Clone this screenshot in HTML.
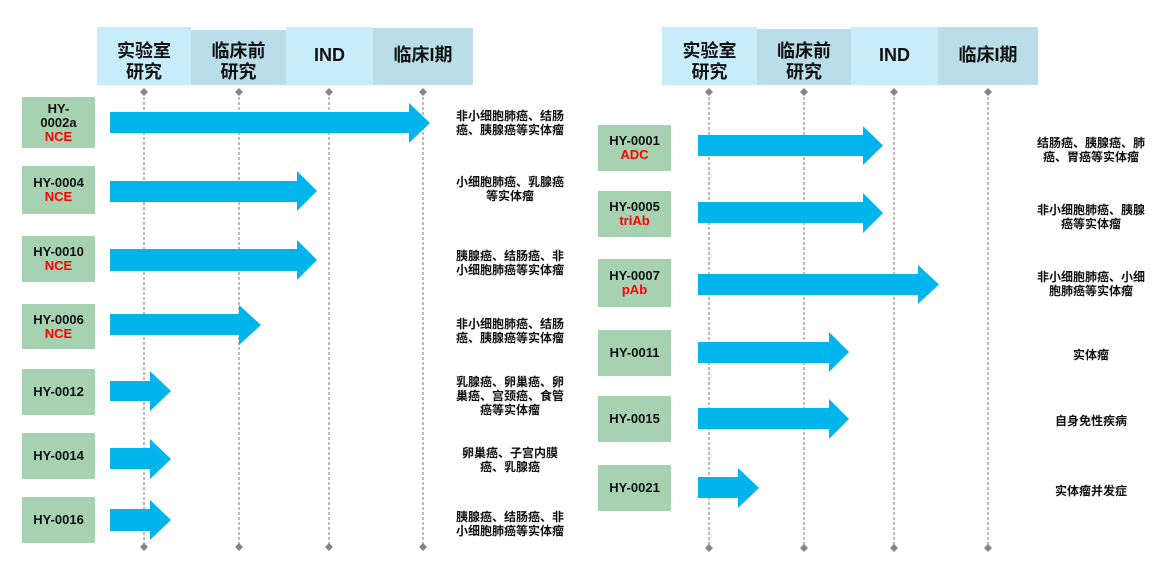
<!DOCTYPE html>
<html>
<head>
<meta charset="utf-8">
<style>
html,body{margin:0;padding:0;background:#fff;}
body{width:1154px;height:569px;position:relative;overflow:hidden;font-family:"Liberation Sans","Noto Sans CJK SC",sans-serif;}
svg{position:absolute;left:0;top:0;}
.hc{position:absolute;font-weight:bold;font-size:18px;line-height:21px;text-align:center;color:#111;}
.box{position:absolute;background:#a7d2b2;display:flex;flex-direction:column;align-items:center;justify-content:center;font-weight:bold;font-size:13px;line-height:14px;color:#111;text-align:center;}
.box .r{color:#ff0000;}
.tx{position:absolute;font-weight:bold;font-size:12px;line-height:14px;color:#111;text-align:center;white-space:nowrap;}
</style>
</head>
<body>
<svg width="1154" height="569" viewBox="0 0 1154 569">
  <rect x="97" y="27" width="94" height="58" fill="#c8edfa"/>
  <rect x="191" y="30" width="95" height="55" fill="#badee9"/>
  <rect x="286" y="27" width="87" height="58" fill="#c8edfa"/>
  <rect x="373" y="28" width="100" height="57" fill="#badee9"/>
  <rect x="662" y="27" width="95" height="58" fill="#c8edfa"/>
  <rect x="757" y="29" width="94" height="56" fill="#badee9"/>
  <rect x="851" y="27" width="87" height="58" fill="#c8edfa"/>
  <rect x="938" y="27" width="100" height="58" fill="#badee9"/>

  <g stroke="#a6a6a6" stroke-width="1.5" stroke-dasharray="3,2" fill="none">
    <line x1="144" y1="92" x2="144" y2="547"/>
    <line x1="239" y1="92" x2="239" y2="547"/>
    <line x1="329" y1="92" x2="329" y2="547"/>
    <line x1="423" y1="92" x2="423" y2="547"/>
    <line x1="709" y1="92" x2="709" y2="548"/>
    <line x1="804" y1="92" x2="804" y2="548"/>
    <line x1="894" y1="92" x2="894" y2="548"/>
    <line x1="988" y1="92" x2="988" y2="548"/>
  </g>
  <g fill="#858585">
    <polygon points="144,88 148,92 144,96 140,92"/>
    <polygon points="239,88 243,92 239,96 235,92"/>
    <polygon points="329,88 333,92 329,96 325,92"/>
    <polygon points="423,88 427,92 423,96 419,92"/>
    <polygon points="144,543 148,547 144,551 140,547"/>
    <polygon points="239,543 243,547 239,551 235,547"/>
    <polygon points="329,543 333,547 329,551 325,547"/>
    <polygon points="423,543 427,547 423,551 419,547"/>
    <polygon points="709,88 713,92 709,96 705,92"/>
    <polygon points="804,88 808,92 804,96 800,92"/>
    <polygon points="894,88 898,92 894,96 890,92"/>
    <polygon points="988,88 992,92 988,96 984,92"/>
    <polygon points="709,544 713,548 709,552 705,548"/>
    <polygon points="804,544 808,548 804,552 800,548"/>
    <polygon points="894,544 898,548 894,552 890,548"/>
    <polygon points="988,544 992,548 988,552 984,548"/>
  </g>

  <g fill="#00b4ec">
    <polygon points="110,112 409,112 409,103 430,123 409,143 409,133 110,133"/>
    <polygon points="110,181 297,181 297,171 317,191 297,211 297,202 110,202"/>
    <polygon points="110,249 297,249 297,240 317,260 297,280 297,271 110,271"/>
    <polygon points="110,314 239,314 239,305 261,325 239,345 239,335 110,335"/>
    <polygon points="110,381 150,381 150,371 171,391 150,411 150,401 110,401"/>
    <polygon points="110,448 150,448 150,439 171,459 150,479 150,469 110,469"/>
    <polygon points="110,509 150,509 150,500 171,520 150,540 150,531 110,531"/>
    <polygon points="698,135 863,135 863,126 883,145.5 863,165 863,156 698,156"/>
    <polygon points="698,202 863,202 863,193 883,213 863,233 863,223 698,223"/>
    <polygon points="698,274 918,274 918,265 939,284.5 918,304 918,295 698,295"/>
    <polygon points="698,342 829,342 829,332 849,352 829,372 829,363 698,363"/>
    <polygon points="698,408 829,408 829,399 849,419 829,439 829,429 698,429"/>
    <polygon points="698,477 738,477 738,468 759,488 738,508 738,498 698,498"/>
  </g>
</svg>

<div class="hc" style="left:97px;top:41px;width:94px;">实验室<br>研究</div>
<div class="hc" style="left:191px;top:41px;width:95px;">临床前<br>研究</div>
<div class="hc" style="left:286px;top:45px;width:87px;">IND</div>
<div class="hc" style="left:373px;top:45px;width:100px;">临床I期</div>
<div class="hc" style="left:662px;top:41px;width:95px;">实验室<br>研究</div>
<div class="hc" style="left:757px;top:41px;width:94px;">临床前<br>研究</div>
<div class="hc" style="left:851px;top:45px;width:87px;">IND</div>
<div class="hc" style="left:938px;top:45px;width:100px;">临床I期</div>

<div class="box" style="left:22px;top:97px;width:73px;height:51px;"><div>HY-</div><div>0002a</div><div class="r">NCE</div></div>
<div class="box" style="left:22px;top:166px;width:73px;height:48px;"><div>HY-0004</div><div class="r">NCE</div></div>
<div class="box" style="left:22px;top:236px;width:73px;height:46px;"><div>HY-0010</div><div class="r">NCE</div></div>
<div class="box" style="left:22px;top:304px;width:73px;height:45px;"><div>HY-0006</div><div class="r">NCE</div></div>
<div class="box" style="left:22px;top:369px;width:73px;height:46px;"><div>HY-0012</div></div>
<div class="box" style="left:22px;top:433px;width:73px;height:46px;"><div>HY-0014</div></div>
<div class="box" style="left:22px;top:497px;width:73px;height:46px;"><div>HY-0016</div></div>

<div class="box" style="left:598px;top:125px;width:73px;height:46px;"><div>HY-0001</div><div class="r">ADC</div></div>
<div class="box" style="left:598px;top:191px;width:73px;height:46px;"><div>HY-0005</div><div class="r">triAb</div></div>
<div class="box" style="left:598px;top:259px;width:73px;height:48px;"><div>HY-0007</div><div class="r">pAb</div></div>
<div class="box" style="left:598px;top:330px;width:73px;height:46px;"><div>HY-0011</div></div>
<div class="box" style="left:598px;top:396px;width:73px;height:46px;"><div>HY-0015</div></div>
<div class="box" style="left:598px;top:465px;width:73px;height:46px;"><div>HY-0021</div></div>

<div class="tx" style="left:440px;width:140px;top:109px;">非小细胞肺癌、结肠<br>癌、胰腺癌等实体瘤</div>
<div class="tx" style="left:440px;width:140px;top:175px;">小细胞肺癌、乳腺癌<br>等实体瘤</div>
<div class="tx" style="left:440px;width:140px;top:249px;">胰腺癌、结肠癌、非<br>小细胞肺癌等实体瘤</div>
<div class="tx" style="left:440px;width:140px;top:317px;">非小细胞肺癌、结肠<br>癌、胰腺癌等实体瘤</div>
<div class="tx" style="left:440px;width:140px;top:375px;">乳腺癌、卵巢癌、卵<br>巢癌、宫颈癌、食管<br>癌等实体瘤</div>
<div class="tx" style="left:440px;width:140px;top:446px;">卵巢癌、子宫内膜<br>癌、乳腺癌</div>
<div class="tx" style="left:440px;width:140px;top:510px;">胰腺癌、结肠癌、非<br>小细胞肺癌等实体瘤</div>

<div class="tx" style="left:1021px;width:140px;top:136px;">结肠癌、胰腺癌、肺<br>癌、胃癌等实体瘤</div>
<div class="tx" style="left:1021px;width:140px;top:203px;">非小细胞肺癌、胰腺<br>癌等实体瘤</div>
<div class="tx" style="left:1021px;width:140px;top:270px;">非小细胞肺癌、小细<br>胞肺癌等实体瘤</div>
<div class="tx" style="left:1021px;width:140px;top:348px;">实体瘤</div>
<div class="tx" style="left:1021px;width:140px;top:414px;">自身免性疾病</div>
<div class="tx" style="left:1021px;width:140px;top:484px;">实体瘤并发症</div>
</body>
</html>
